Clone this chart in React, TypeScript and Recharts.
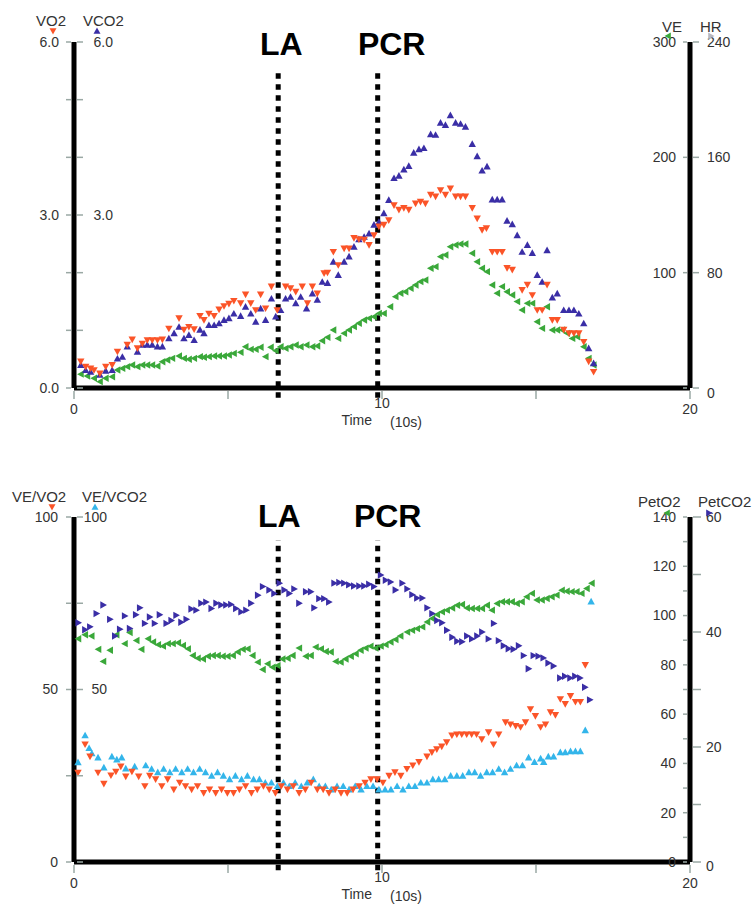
import React from 'react';
import { ScatterChart, Scatter, XAxis, YAxis, ReferenceLine } from 'recharts';

type P = [number, number];

// ---------- axes / ticks ----------
const timeTicks = [0, 5, 10, 15, 20];
const timeLabelTicks = [0, 10, 20];
const LA_TIME = 6.63;
const PCR_TIME = 9.86;

const gasTicks = [0, 1, 2, 3, 4, 5, 6];
const vo2LabelTicks = [0, 3, 6];
const vco2LabelTicks = [3, 6];
const veTicks = [0, 100, 200, 300];
const veLabelTicks = [100, 200, 300];
const hrLabels = [0, 80, 160, 240];
const eqTicks = [0, 25, 50, 75, 100];
const veVo2LabelTicks = [0, 50, 100];
const veVco2LabelTicks = [50, 100];
const petO2Ticks = [0, 10, 20, 30, 40, 50, 60, 70, 80, 90, 100, 110, 120, 130, 140];
const petO2LabelTicks = [0, 20, 40, 60, 80, 100, 120, 140];
const petCO2Ticks = [0, 10, 20, 30, 40, 50, 60];
const petCO2LabelTicks = [0, 20, 40, 60];

// ---------- top panel data ----------
const vo2: P[] = [[0.22,0.46],[0.38,0.37],[0.54,0.34],[0.65,0.31],[0.84,0.25],[1.03,0.37],[1.24,0.40],[1.41,0.63],[1.73,0.75],[1.89,0.84],[2.06,0.69],[2.22,0.77],[2.38,0.83],[2.54,0.83],[2.71,0.83],[2.87,0.84],[3.08,1.03],[3.41,1.21],[3.57,1.01],[3.73,1.06],[3.90,1.02],[4.09,1.25],[4.22,1.18],[4.38,1.29],[4.55,1.25],[4.71,1.36],[4.87,1.42],[5.03,1.46],[5.19,1.51],[5.41,1.47],[5.57,1.62],[5.74,1.47],[5.90,1.35],[6.06,1.62],[6.22,1.38],[6.41,1.76],[6.60,1.35],[6.87,1.76],[7.03,1.73],[7.20,1.67],[7.41,1.76],[7.58,1.47],[7.74,1.76],[7.90,1.64],[8.12,1.99],[8.23,2.00],[8.42,2.36],[8.58,2.13],[8.77,2.42],[8.93,2.42],[9.09,2.60],[9.25,2.58],[9.42,2.57],[9.58,2.48],[9.74,2.65],[9.90,2.80],[10.06,2.83],[10.22,2.91],[10.39,3.17],[10.55,3.09],[10.71,3.12],[10.87,3.09],[11.09,3.20],[11.25,3.23],[11.41,3.20],[11.58,3.35],[11.74,3.32],[11.90,3.43],[12.06,3.35],[12.22,3.46],[12.39,3.32],[12.55,3.32],[12.71,3.32],[12.93,3.12],[13.09,2.94],[13.25,2.74],[13.39,2.77],[13.58,2.36],[13.74,2.36],[13.90,2.36],[14.06,2.08],[14.23,2.05],[14.55,1.70],[14.72,1.79],[14.88,1.61],[15.04,1.35],[15.20,1.35],[15.36,1.79],[15.53,1.18],[15.69,1.18],[15.90,1.01],[16.07,0.95],[16.23,0.95],[16.39,0.95],[16.55,0.80],[16.71,0.46],[16.87,0.28]];

const vco2: P[] = [[0.22,0.40],[0.38,0.31],[0.54,0.28],[0.84,0.23],[1.03,0.30],[1.24,0.31],[1.41,0.51],[1.57,0.54],[1.73,0.72],[2.06,0.63],[2.22,0.75],[2.38,0.75],[2.54,0.75],[2.71,0.72],[2.87,0.72],[3.08,0.86],[3.25,0.95],[3.41,1.06],[3.57,0.86],[3.73,0.92],[3.90,0.83],[4.09,1.01],[4.22,0.95],[4.38,1.09],[4.55,1.09],[4.71,1.12],[4.87,1.18],[5.03,1.21],[5.19,1.29],[5.41,1.25],[5.57,1.41],[5.74,1.29],[5.90,1.15],[6.06,1.38],[6.22,1.18],[6.41,1.55],[6.55,1.24],[6.71,1.35],[6.87,1.55],[7.03,1.58],[7.20,1.47],[7.36,1.58],[7.55,1.38],[7.74,1.64],[7.90,1.53],[8.06,1.84],[8.23,1.82],[8.42,2.19],[8.58,1.96],[8.77,2.19],[8.93,2.28],[9.09,2.45],[9.25,2.58],[9.42,2.62],[9.58,2.68],[9.74,2.83],[9.90,2.88],[10.06,3.03],[10.22,3.26],[10.39,3.64],[10.55,3.68],[10.71,3.79],[10.87,3.85],[11.03,4.08],[11.20,4.14],[11.36,4.16],[11.58,4.40],[11.74,4.39],[11.90,4.60],[12.06,4.56],[12.22,4.73],[12.39,4.60],[12.55,4.58],[12.71,4.53],[12.93,4.23],[13.09,4.02],[13.25,3.77],[13.41,3.84],[13.58,3.27],[13.74,3.27],[13.90,3.27],[14.06,2.90],[14.23,2.84],[14.39,2.65],[14.55,2.36],[14.72,2.48],[14.88,2.34],[15.04,1.96],[15.20,1.84],[15.36,2.39],[15.53,1.57],[15.69,1.64],[15.90,1.35],[16.07,1.35],[16.23,1.35],[16.39,1.29],[16.55,1.12],[16.71,0.69],[16.87,0.43]];

const ve: P[] = [[0.22,12],[0.43,10.4],[0.65,8.4],[0.84,5.5],[1.03,8.4],[1.24,9.8],[1.41,15.6],[1.57,17],[1.73,18.5],[1.89,20],[2.06,18.5],[2.22,20],[2.38,20],[2.54,20],[2.71,19],[2.87,22.8],[3.03,24.3],[3.19,25.7],[3.41,27.7],[3.57,25.7],[3.73,24.9],[3.90,25.7],[4.09,27.2],[4.22,26.6],[4.38,27.2],[4.55,27.7],[4.71,27.7],[4.87,27.7],[5.03,28.6],[5.19,30],[5.41,30.9],[5.57,35.8],[5.74,33.5],[5.90,33.5],[6.06,35.3],[6.22,27.2],[6.39,35.3],[6.55,32.4],[6.71,35.8],[6.87,34.4],[7.03,35.8],[7.20,37.3],[7.36,35.8],[7.55,37.3],[7.74,35.8],[7.90,36.4],[8.06,41],[8.23,43.9],[8.42,50.3],[8.58,43],[8.77,47.4],[8.93,50.3],[9.09,53.2],[9.25,56.1],[9.42,59],[9.58,60.4],[9.74,61.8],[9.90,64.7],[10.06,64.7],[10.27,70.5],[10.44,79.2],[10.60,82.1],[10.76,83.5],[10.93,86.4],[11.09,89.3],[11.25,92.2],[11.41,93.6],[11.58,103.8],[11.74,105.2],[11.90,113.9],[12.06,115.3],[12.22,122.5],[12.39,124],[12.55,124.9],[12.71,124.9],[12.93,116.8],[13.09,109.5],[13.25,103.8],[13.41,100.9],[13.58,89.3],[13.74,82.1],[13.90,87.9],[14.06,83.5],[14.23,80.6],[14.39,74.9],[14.55,67.6],[14.72,73.4],[14.88,73.4],[15.04,57.5],[15.20,51.7],[15.36,70.5],[15.53,50.3],[15.69,50.3],[15.85,50.3],[16.01,47.4],[16.18,43],[16.34,44.5],[16.55,35.8],[16.71,25.7],[16.87,19.9]];

// ---------- bottom panel data ----------
const veVo2: P[] = [[0.13,25.9],[0.36,34.1],[0.52,30.6],[0.78,25.9],[0.97,22.7],[1.20,25.1],[1.36,26.2],[1.52,27.7],[1.68,24.8],[1.88,26.2],[2.10,24.8],[2.30,22],[2.46,25],[2.65,24],[2.85,22],[3.04,24],[3.24,21],[3.43,23],[3.62,22],[3.82,21],[4.01,22],[4.21,20],[4.40,21],[4.60,20],[4.79,21],[4.98,20],[5.18,20],[5.37,21],[5.57,22],[5.76,20],[5.95,21],[6.15,22],[6.34,21],[6.54,20],[6.73,22],[6.93,21],[7.12,22],[7.31,20],[7.51,21],[7.70,23],[7.90,21],[8.09,21],[8.28,20],[8.48,21],[8.67,20],[8.87,20],[9.06,21],[9.26,22],[9.45,23],[9.64,24],[9.84,24],[10.03,23],[10.23,25],[10.42,26],[10.61,25],[10.81,27],[11.00,28],[11.20,29],[11.46,30.6],[11.62,31.8],[11.78,32.7],[11.94,33.5],[12.10,34.7],[12.27,36.7],[12.43,37.0],[12.59,37.0],[12.75,37.0],[12.91,37.0],[13.07,37.0],[13.24,35.6],[13.46,37.6],[13.62,34.1],[13.79,37.0],[14.01,40.5],[14.17,39.9],[14.34,39.4],[14.50,39.1],[14.66,40.5],[14.82,44.3],[14.98,42.3],[15.15,39.1],[15.31,39.9],[15.47,43.4],[15.63,42.6],[15.79,47.2],[15.95,45.8],[16.12,48.1],[16.28,46.4],[16.44,46.4],[16.60,57.1]];

const veVco2: P[] = [[0.13,28.9],[0.36,36.7],[0.49,33.0],[0.58,31.5],[0.78,30.3],[0.97,27.4],[1.23,30.6],[1.39,29.7],[1.55,30.3],[1.68,27.1],[1.97,27.7],[2.33,28],[2.52,27],[2.72,26],[2.91,27],[3.11,26],[3.30,27],[3.50,26],[3.69,27],[3.88,26],[4.08,27],[4.27,26],[4.47,25],[4.66,26],[4.85,25],[5.05,24],[5.24,25],[5.44,24],[5.63,25],[5.83,24],[6.02,24],[6.21,23],[6.41,23],[6.60,22],[6.80,23],[6.99,22],[7.18,23],[7.38,22],[7.57,23],[7.77,24],[7.96,22],[8.16,22],[8.35,21],[8.54,22],[8.74,22],[8.93,21],[9.13,22],[9.32,21],[9.51,22],[9.71,22],[9.90,21],[10.10,21],[10.29,21],[10.49,22],[10.68,21],[10.87,22],[11.07,22],[11.26,23],[11.46,23],[11.65,24],[11.84,24],[12.04,24],[12.23,25],[12.43,25],[12.62,25],[12.82,26],[13.01,26],[13.20,25],[13.40,26],[13.59,26],[13.79,27],[13.98,26],[14.17,27],[14.37,28],[14.56,28],[14.76,30.3],[14.95,29],[15.15,30],[15.25,29],[15.40,30.6],[15.57,30.6],[15.79,31.8],[15.95,31.8],[16.12,32.1],[16.28,32.1],[16.44,32.1],[16.60,38.2],[16.79,75.5]];

const petCO2: P[] = [[0.14,41.6],[0.36,40.4],[0.52,40.9],[0.73,43.2],[0.95,44.7],[1.17,42.2],[1.33,39.3],[1.49,40.5],[1.65,42.8],[1.81,40.6],[2.01,43.0],[2.14,44.2],[2.30,41.5],[2.46,42.6],[2.62,41.5],[2.78,43.0],[3.00,41.5],[3.16,42.0],[3.32,42.9],[3.48,41.7],[3.65,42.2],[3.81,44.0],[3.97,43.8],[4.13,45.0],[4.29,45.2],[4.46,44.1],[4.62,45.0],[4.78,44.7],[4.94,44.7],[5.10,44.8],[5.26,44.1],[5.43,43.5],[5.59,43.8],[5.75,45.0],[5.97,46.4],[6.13,47.9],[6.34,47.3],[6.50,46.7],[6.67,48.5],[6.83,47.3],[6.99,46.7],[7.15,47.5],[7.31,45.0],[7.53,47.0],[7.69,47.0],[7.80,44.2],[7.96,45.8],[8.12,45.8],[8.28,45.2],[8.45,48.5],[8.61,48.6],[8.77,48.5],[8.93,48.2],[9.09,48.0],[9.26,48.0],[9.42,48.0],[9.58,48.3],[9.74,47.9],[9.96,49.9],[10.12,49.0],[10.28,48.7],[10.44,47.3],[10.66,48.5],[10.82,47.5],[10.98,46.5],[11.14,45.9],[11.31,45.9],[11.47,44.2],[11.63,43.2],[11.79,42.0],[11.95,41.6],[12.11,40.3],[12.28,39.1],[12.44,38.4],[12.60,38.3],[12.76,39.3],[12.92,38.8],[13.09,39.3],[13.25,40.0],[13.46,38.8],[13.63,41.5],[13.79,38.5],[13.95,37.6],[14.11,37.1],[14.27,37.0],[14.44,37.6],[14.60,35.9],[14.76,33.6],[14.92,35.9],[15.08,35.8],[15.24,35.5],[15.40,34.6],[15.57,34.1],[15.78,32.0],[15.94,32.3],[16.11,32.0],[16.27,32.3],[16.43,32.0],[16.59,30.4],[16.75,28.2]];

const petO2: P[] = [[0.14,90.6],[0.36,92.2],[0.57,91.7],[0.79,86.3],[0.95,81.4],[1.17,85.9],[1.38,92.2],[1.65,88.6],[1.81,93.1],[2.03,89.9],[2.19,86.3],[2.41,90.6],[2.57,89.3],[2.73,88.2],[2.89,87.6],[3.05,88.6],[3.21,88.6],[3.38,89.0],[3.54,87.9],[3.70,86.5],[3.86,83.8],[4.02,82.7],[4.19,82.4],[4.35,83.5],[4.51,83.8],[4.67,83.8],[4.83,83.5],[4.99,83.5],[5.16,83.8],[5.32,85.2],[5.48,86.3],[5.64,86.5],[5.80,83.8],[5.97,81.1],[6.13,78.1],[6.29,80.4],[6.45,79.0],[6.61,79.7],[6.77,82.4],[6.94,82.7],[7.10,83.8],[7.31,86.8],[7.53,83.5],[7.69,83.8],[7.85,87.2],[8.02,86.5],[8.18,85.4],[8.34,85.2],[8.50,81.4],[8.66,81.1],[8.82,82.4],[8.99,83.5],[9.15,84.5],[9.31,85.9],[9.47,86.8],[9.63,87.6],[9.79,86.8],[9.96,87.6],[10.12,88.2],[10.28,89.3],[10.44,90.3],[10.60,91.7],[10.82,93.3],[10.98,94.0],[11.14,94.7],[11.31,95.4],[11.47,97.4],[11.63,98.8],[11.79,100.4],[11.95,101.5],[12.11,102.2],[12.28,103.1],[12.44,104.2],[12.60,104.5],[12.76,103.1],[12.92,102.9],[13.09,102.9],[13.25,102.9],[13.41,104.2],[13.57,102.2],[13.74,104.9],[13.90,105.6],[14.06,105.6],[14.22,105.6],[14.38,104.9],[14.54,105.6],[14.70,107.6],[14.87,109.0],[15.03,106.3],[15.19,106.3],[15.35,106.9],[15.51,107.6],[15.67,108.3],[15.84,110.3],[16.00,109.9],[16.16,109.7],[16.32,109.7],[16.48,109.0],[16.65,111.0],[16.81,113.1]];

// ---------- style ----------
const FONT = '"Liberation Sans", Arial, Helvetica, sans-serif';
const TXT = '#333';
const TICK_C = '#9aa8a4';
const RED = '#fb5428';
const BLUE = '#3a2ea6';
const GREEN = '#3aa83a';
const CYAN = '#33b5ea';
const GRAY = '#b8b8c0';

const toPts = (a: P[]) => a.map(([t, v]) => ({ t, v }));
const near = (a: number, b: number) => Math.abs(a - b) < 1e-6;
const inList = (list: number[], v: number) => list.some((x) => near(x, v));

const triShape = (dir: string, color: string, s = 3.7) => (p: any) => {
  const { cx, cy } = p;
  if (typeof cx !== 'number' || typeof cy !== 'number') return <g />;
  return <polygon points={triPts(dir, cx, cy, s)} fill={color} />;
};
function triPts(dir: string, cx: number, cy: number, s: number) {
  if (dir === 'up') return `${cx},${cy - s} ${cx - s},${cy + s * 0.8} ${cx + s},${cy + s * 0.8}`;
  if (dir === 'down') return `${cx},${cy + s} ${cx - s},${cy - s * 0.8} ${cx + s},${cy - s * 0.8}`;
  if (dir === 'left') return `${cx - s},${cy} ${cx + s * 0.8},${cy - s} ${cx + s * 0.8},${cy + s}`;
  return `${cx + s},${cy} ${cx - s * 0.8},${cy - s} ${cx - s * 0.8},${cy + s}`;
}

const txtProps = { fontFamily: FONT, fontSize: 14, fill: TXT };

// ---------- tick renderers ----------
const GasTick = (p: any) => {
  const { x, y, payload } = p;
  const v = payload.value;
  return (
    <g>
      <line x1={x - 8} x2={x - 3} y1={y} y2={y} stroke={TICK_C} strokeWidth={1.5} />
      <line x1={x + 3} x2={x + 9} y1={y} y2={y} stroke={TICK_C} strokeWidth={1.5} />
      {inList(vo2LabelTicks, v) && (
        <text x={x - 15} y={y} dy="0.35em" textAnchor="end" {...txtProps}>{v.toFixed(1)}</text>
      )}
      {inList(vco2LabelTicks, v) && (
        <text x={x + 39} y={y} dy="0.35em" textAnchor="end" {...txtProps}>{v.toFixed(1)}</text>
      )}
    </g>
  );
};

const VeTick = (p: any) => {
  const { x, y, payload } = p;
  const v = payload.value;
  const idx = veTicks.findIndex((t) => near(t, v));
  return (
    <g>
      <line x1={x - 7} x2={x - 3} y1={y} y2={y} stroke={TICK_C} strokeWidth={1.5} />
      <line x1={x + 3} x2={x + 9} y1={y} y2={y} stroke={TICK_C} strokeWidth={1.5} />
      {inList(veLabelTicks, v) && (
        <text x={x - 14} y={y} dy="0.35em" textAnchor="end" {...txtProps}>{v}</text>
      )}
      {idx >= 0 && (
        <text x={x + 17} y={y + (v === 0 ? 5 : 0)} dy="0.35em" textAnchor="start" {...txtProps}>{hrLabels[idx]}</text>
      )}
    </g>
  );
};

const EqTick = (p: any) => {
  const { x, y, payload } = p;
  const v = payload.value;
  return (
    <g>
      <line x1={x - 8} x2={x - 3} y1={y} y2={y} stroke={TICK_C} strokeWidth={1.5} />
      <line x1={x + 3} x2={x + 9} y1={y} y2={y} stroke={TICK_C} strokeWidth={1.5} />
      {inList(veVo2LabelTicks, v) && (
        <text x={x - 16} y={y} dy="0.35em" textAnchor="end" {...txtProps}>{v}</text>
      )}
      {inList(veVco2LabelTicks, v) && (
        <text x={x + 33} y={y} dy="0.35em" textAnchor="end" {...txtProps}>{v}</text>
      )}
    </g>
  );
};

const PetTick = (p: any) => {
  const { x, y, payload } = p;
  const v = payload.value;
  const co2 = (v * 60) / 140;
  const isO2 = inList(petO2Ticks, v);
  const isCO2 = inList(petCO2Ticks, co2);
  return (
    <g>
      {isO2 && <line x1={x - 7} x2={x - 3} y1={y} y2={y} stroke={TICK_C} strokeWidth={1.5} />}
      {isCO2 && <line x1={x + 3} x2={x + 11} y1={y} y2={y} stroke={TICK_C} strokeWidth={1.5} />}
      {isO2 && inList(petO2LabelTicks, v) && (
        <text x={x - 14} y={y} dy="0.35em" textAnchor="end" {...txtProps}>{v}</text>
      )}
      {isCO2 && inList(petCO2LabelTicks, co2) && (
        <text x={x + 16} y={y + (near(co2, 0) ? 4 : 0)} dy="0.35em" textAnchor="start" {...txtProps}>{Math.round(co2)}</text>
      )}
    </g>
  );
};

const TimeTick = (p: any) => {
  const { x, y, payload } = p;
  const v = payload.value;
  const lab = inList(timeLabelTicks, v);
  return (
    <g>
      <line x1={x} x2={x} y1={y + 3} y2={y + 11} stroke={TICK_C} strokeWidth={1.5} />
      {lab && (
        <text x={x} y={y + (v === 10 ? 15 : 21)} dy="0.35em" textAnchor="middle" {...txtProps}>{v}</text>
      )}
    </g>
  );
};

const TimeTitle = (p: any) => {
  const vb = p.viewBox || { x: 74, y: 388, width: 616 };
  const cx = vb.x + vb.width / 2;
  return (
    <g>
      <text x={cx - 10} y={vb.y + 32} dy="0.35em" textAnchor="end" {...txtProps}>Time</text>
      <text x={cx + 8} y={vb.y + 34} dy="0.35em" textAnchor="start" {...txtProps}>(10s)</text>
    </g>
  );
};

const LineTag = (p: any) => {
  const vb = p.viewBox || { x: 0, y: 0 };
  return (
    <text x={vb.x + p.dx} y={vb.y - 13} textAnchor="middle" fontFamily={FONT} fontSize={32} fontWeight="bold" fill="#000">
      {p.text}
    </text>
  );
};

const axisLine = { stroke: '#000', strokeWidth: 5 };

function Marker({ dir, color, x, y }: { dir: string; color: string; x: number; y: number }) {
  return <polygon points={triPts(dir, x, y, 3.5)} fill={color} />;
}

export default function App() {
  return (
    <div style={{ position: 'absolute', left: 0, top: 0, width: 752, height: 905, background: '#fff', overflow: 'hidden' }}>
      {/* top panel */}
      <div style={{ position: 'absolute', left: 0, top: 0 }}>
        <ScatterChart width={752} height={440} margin={{ top: 42, right: 0, bottom: 22, left: 0 }}>
          <XAxis
            dataKey="t"
            type="number"
            domain={[0, 20]}
            ticks={timeTicks}
            interval={0}
            allowDataOverflow
            height={30}
            tickSize={0}
            tickMargin={0}
            tickLine={false}
            axisLine={axisLine}
            tick={<TimeTick />}
            label={<TimeTitle />}
          />
          <YAxis yAxisId="gas" dataKey="v" type="number" domain={[0, 6]} ticks={gasTicks} interval={0} width={74} tickSize={0} tickMargin={0} tickLine={false} axisLine={axisLine} tick={<GasTick />} allowDataOverflow />
          <YAxis yAxisId="ve" orientation="right" dataKey="v" type="number" domain={[0, 300]} ticks={veTicks} interval={0} width={62} tickSize={0} tickMargin={0} tickLine={false} axisLine={axisLine} tick={<VeTick />} allowDataOverflow />
          <ReferenceLine yAxisId="gas" segment={[{ x: LA_TIME, y: -0.17 }, { x: LA_TIME, y: 5.55 }]} stroke="#000" strokeWidth={5} strokeDasharray="5.5 5.5" ifOverflow="visible" label={<LineTag text="LA" dx={3} />} />
          <ReferenceLine yAxisId="gas" segment={[{ x: PCR_TIME, y: -0.17 }, { x: PCR_TIME, y: 5.55 }]} stroke="#000" strokeWidth={5} strokeDasharray="5.5 5.5" ifOverflow="visible" label={<LineTag text="PCR" dx={14} />} />
          <Scatter yAxisId="ve" data={toPts(ve)} shape={triShape('left', GREEN)} isAnimationActive={false} />
          <Scatter yAxisId="gas" data={toPts(vco2)} shape={triShape('up', BLUE)} isAnimationActive={false} />
          <Scatter yAxisId="gas" data={toPts(vo2)} shape={triShape('down', RED)} isAnimationActive={false} />
        </ScatterChart>
      </div>

      {/* bottom panel */}
      <div style={{ position: 'absolute', left: 0, top: 475 }}>
        <ScatterChart width={752} height={430} margin={{ top: 42, right: 0, bottom: 13, left: 0 }}>
          <XAxis
            dataKey="t"
            type="number"
            domain={[0, 20]}
            ticks={timeTicks}
            interval={0}
            allowDataOverflow
            height={30}
            tickSize={0}
            tickMargin={0}
            tickLine={false}
            axisLine={axisLine}
            tick={<TimeTick />}
            label={<TimeTitle />}
          />
          <YAxis yAxisId="eq" dataKey="v" type="number" domain={[0, 100]} ticks={eqTicks} interval={0} width={74} tickSize={0} tickMargin={0} tickLine={false} axisLine={axisLine} tick={<EqTick />} allowDataOverflow />
          <YAxis
            yAxisId="po2"
            orientation="right"
            dataKey="v"
            type="number"
            domain={[0, 140]}
            ticks={[...petO2Ticks, ...petCO2Ticks.map((c) => (c * 140) / 60).filter((t) => !inList(petO2Ticks, t))]}
            interval={0}
            width={62}
            tickSize={0}
            tickMargin={0}
            tickLine={false}
            axisLine={axisLine}
            tick={<PetTick />}
            allowDataOverflow
          />
          <YAxis yAxisId="pco2" orientation="right" dataKey="v" type="number" domain={[0, 60]} width={0} hide allowDataOverflow />
          <ReferenceLine yAxisId="eq" segment={[{ x: LA_TIME, y: -2.4 }, { x: LA_TIME, y: 93.3 }]} stroke="#000" strokeWidth={5} strokeDasharray="5.5 5.5" ifOverflow="visible" label={<LineTag text="LA" dx={1} />} />
          <ReferenceLine yAxisId="eq" segment={[{ x: PCR_TIME, y: -2.4 }, { x: PCR_TIME, y: 93.3 }]} stroke="#000" strokeWidth={5} strokeDasharray="5.5 5.5" ifOverflow="visible" label={<LineTag text="PCR" dx={10} />} />
          <Scatter yAxisId="po2" data={toPts(petO2)} shape={triShape('left', GREEN)} isAnimationActive={false} />
          <Scatter yAxisId="pco2" data={toPts(petCO2)} shape={triShape('right', BLUE)} isAnimationActive={false} />
          <Scatter yAxisId="eq" data={toPts(veVco2)} shape={triShape('up', CYAN)} isAnimationActive={false} />
          <Scatter yAxisId="eq" data={toPts(veVo2)} shape={triShape('down', RED)} isAnimationActive={false} />
        </ScatterChart>
      </div>

      {/* series titles */}
      <svg width={752} height={905} style={{ position: 'absolute', left: 0, top: 0, pointerEvents: 'none' }}>
        <g fontFamily={FONT} fontSize={15} fill={TXT}>
          <text x={36} y={26}>VO2</text>
          <text x={83} y={26}>VCO2</text>
          <text x={662} y={32}>VE</text>
          <text x={700} y={32}>HR</text>
          <text x={12} y={502}>VE/VO2</text>
          <text x={82} y={502}>VE/VCO2</text>
          <text x={638} y={507}>PetO2</text>
          <text x={698} y={507}>PetCO2</text>
        </g>
        <Marker dir="down" color={RED} x={53} y={31} />
        <Marker dir="up" color={BLUE} x={97} y={31} />
        <Marker dir="left" color={GREEN} x={668} y={36} />
        <Marker dir="right" color={GRAY} x={711} y={36} />
        <Marker dir="down" color={RED} x={52} y={507} />
        <Marker dir="up" color={CYAN} x={95} y={507} />
        <Marker dir="left" color={GREEN} x={667} y={513} />
        <Marker dir="right" color={BLUE} x={709} y={513} />
      </svg>
    </div>
  );
}
